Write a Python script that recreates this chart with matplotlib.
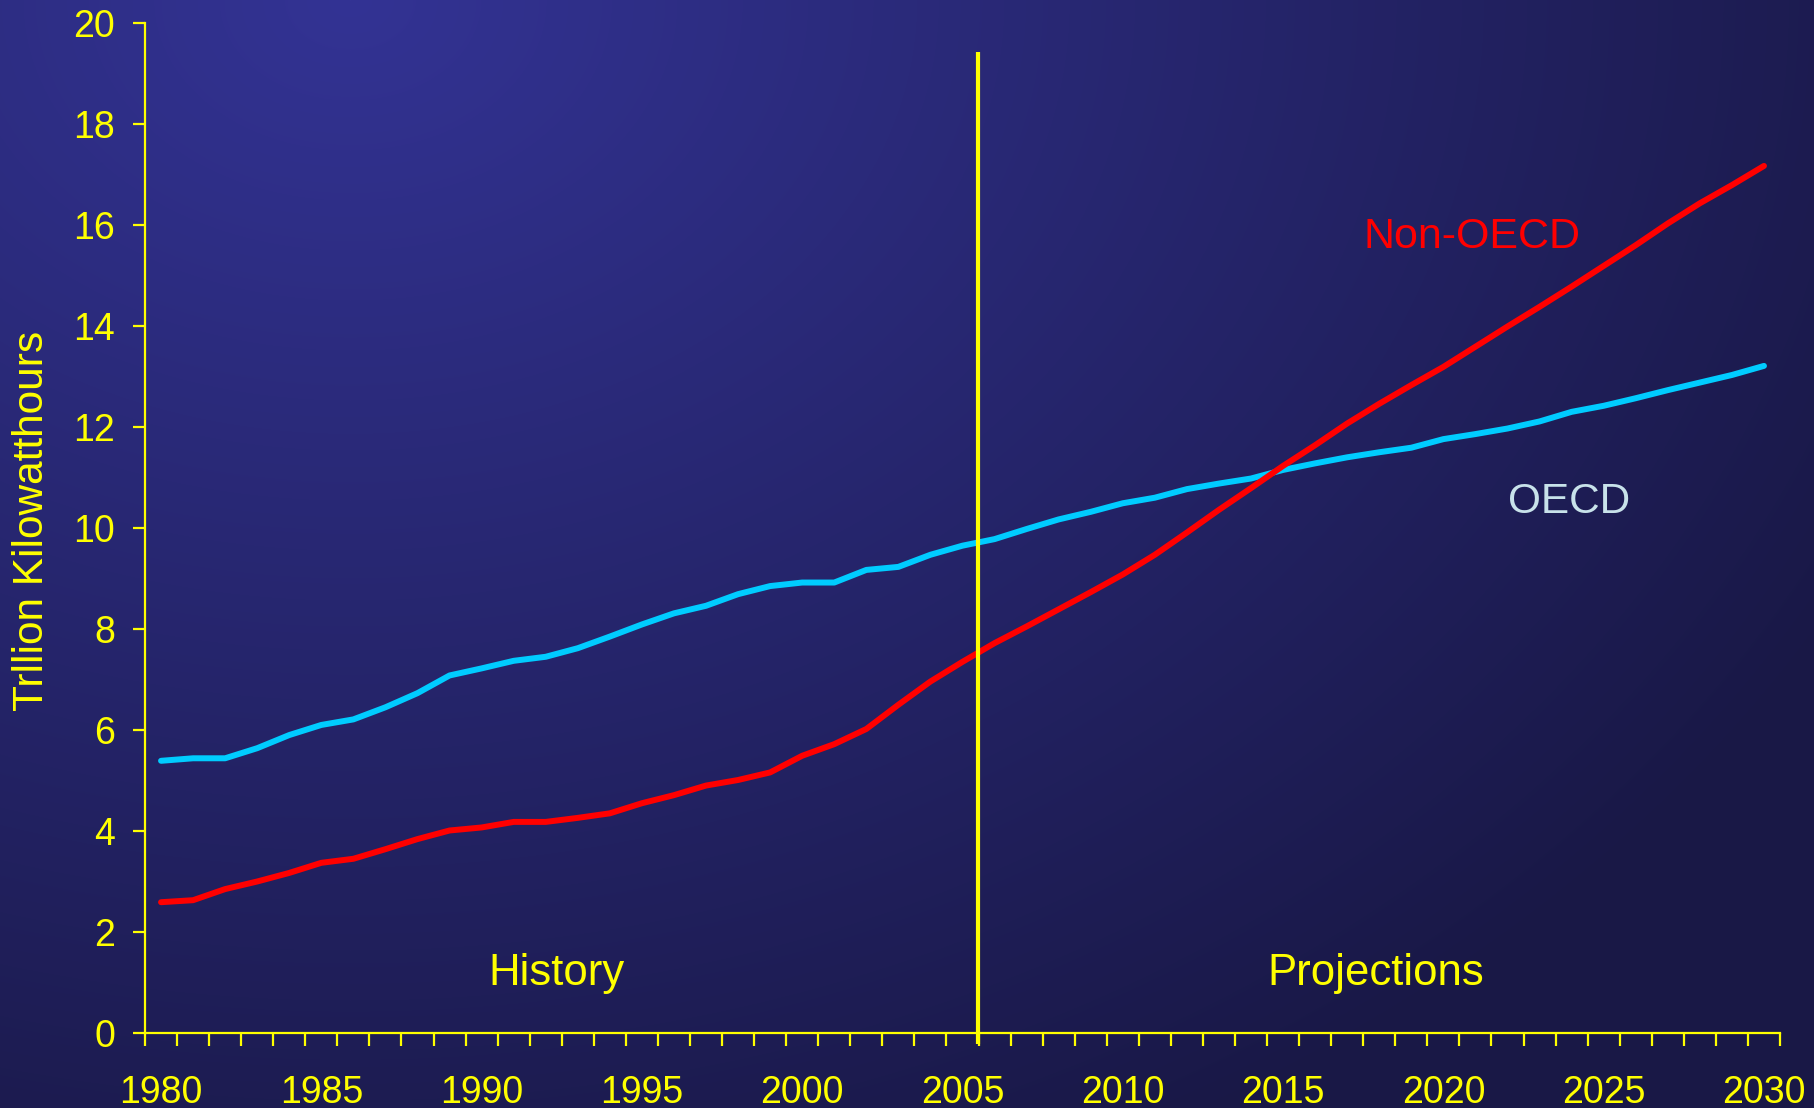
import numpy as np
import matplotlib
matplotlib.use("Agg")
import matplotlib.pyplot as plt
from matplotlib.ticker import MultipleLocator, FixedLocator

plt.rcParams['font.family'] = ['Liberation Sans', 'DejaVu Sans']

# ---------------- data ----------------
years = list(range(1980, 2031))
oecd = [5.39, 5.44, 5.44, 5.64, 5.90, 6.10, 6.21, 6.45, 6.73, 7.08,
        7.22, 7.37, 7.45, 7.62, 7.85, 8.09, 8.31, 8.46, 8.69, 8.85,
        8.92, 8.92, 9.17, 9.23, 9.47, 9.65, 9.78, 9.98, 10.17, 10.32,
        10.49, 10.60, 10.77, 10.88, 10.98, 11.15, 11.28, 11.40, 11.50, 11.59,
        11.76, 11.86, 11.97, 12.11, 12.30, 12.42, 12.57, 12.73, 12.88, 13.03,
        13.21]
non_oecd = [2.59, 2.63, 2.85, 3.00, 3.17, 3.37, 3.45, 3.64, 3.84, 4.01,
            4.07, 4.18, 4.18, 4.26, 4.35, 4.55, 4.71, 4.90, 5.01, 5.16,
            5.49, 5.72, 6.02, 6.50, 6.96, 7.35, 7.72, 8.05, 8.39, 8.73,
            9.08, 9.47, 9.91, 10.36, 10.79, 11.23, 11.64, 12.07, 12.46, 12.83,
            13.19, 13.59, 13.99, 14.38, 14.78, 15.19, 15.60, 16.03, 16.43, 16.79,
            17.17]
y_ticks = list(range(0, 21, 2))
x_tick_labels = list(range(1980, 2031, 5))
divider_year = 2005.48
divider_top = 19.43

YELLOW = '#FFFF00'
CYAN = '#00CCFF'
RED = '#FF0000'

W, H = 1814, 1108
fig = plt.figure(figsize=(W / 100, H / 100), dpi=100)

# ---------------- background gradient ----------------
bg = fig.add_axes([0, 0, 1, 1])
yy, xx = np.mgrid[0:H, 0:W]
t = np.sqrt(((xx - 350) / 1700.0) ** 2 + ((yy - 0) / 1300.0) ** 2)
t = np.clip(t, 0, 1)
c0 = np.array([51, 51, 148]) / 255.0
c1 = np.array([25, 24, 70]) / 255.0
img = c0[None, None, :] * (1 - t[..., None]) + c1[None, None, :] * t[..., None]
bg.imshow(img, extent=[0, 1, 0, 1], aspect='auto', origin='upper', zorder=0)
bg.set_axis_off()

# ---------------- main axes ----------------
ax = fig.add_axes([145 / W, 1 - 1033 / H, (1780 - 145) / W, (1033 - 23) / H])
ax.patch.set_alpha(0)
ax.set_xlim(1979.5, 2030.5)
ax.set_ylim(0, 20)

ax.plot(years, oecd, color=CYAN, lw=4.3, solid_capstyle='round',
        solid_joinstyle='round', zorder=3)
ax.plot(years, non_oecd, color=RED, lw=4.3, solid_capstyle='round',
        solid_joinstyle='round', zorder=3)

ax.plot([divider_year, divider_year], [divider_top, -0.22], color=YELLOW,
        lw=3, zorder=4, clip_on=False, solid_capstyle='butt')

for s in ['top', 'right']:
    ax.spines[s].set_visible(False)
for s in ['left', 'bottom']:
    ax.spines[s].set_color(YELLOW)
    ax.spines[s].set_linewidth(1.6)

ax.set_yticks(y_ticks)
ax.tick_params(axis='y', colors=YELLOW, length=9, width=1.6, pad=12.5,
               labelsize=27, direction='out')
ax.xaxis.set_major_locator(FixedLocator(x_tick_labels))
ax.xaxis.set_minor_locator(FixedLocator(np.arange(1979.5, 2031, 1.0)))
ax.tick_params(axis='x', which='major', colors=YELLOW, length=0, pad=30,
               labelsize=27)
ax.tick_params(axis='x', which='minor', colors=YELLOW, length=9.4, width=1.6,
               direction='out')

# ---------------- text ----------------
ax.text(2017.52, 15.54, 'Non-OECD', color=RED, fontsize=31,
        ha='left', va='baseline')
ax.text(2022.0, 10.30, 'OECD', color='#C8E2EA', fontsize=30.5,
        ha='left', va='baseline')
ax.text(1990.2, 0.95, 'History', color=YELLOW, fontsize=31.5,
        ha='left', va='baseline')
ax.text(2014.5, 0.95, 'Projections', color=YELLOW, fontsize=31.5,
        ha='left', va='baseline')

fig.text(43 / W, 1 - 521 / H, 'Trllion Kilowatthours', color=YELLOW,
         fontsize=30.5, rotation=90, rotation_mode='anchor',
         ha='center', va='baseline')

fig.savefig('out.png', dpi=100)
